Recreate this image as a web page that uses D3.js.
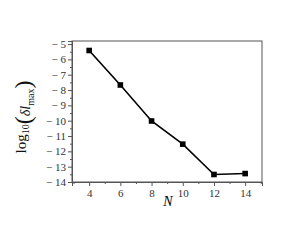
<!DOCTYPE html>
<html lang="en">
<head>
<meta charset="utf-8">
<script src="https://cdn.jsdelivr.net/npm/d3@7"></script>
<style>
  body { margin: 0; background: #fff; }
  svg { display: block; }
  text { font-family: "Liberation Serif", "DejaVu Serif", serif; }
</style>
</head>
<body>
<svg id="chart" width="284" height="245"></svg>
<script>
var nValues = [4, 6, 8, 10, 12, 14];
var logErr = [-5.42, -7.67, -10.02, -11.53, -13.51, -13.45];
var xTicks = [4, 6, 8, 10, 12, 14];
var yTicks = [-5, -6, -7, -8, -9, -10, -11, -12, -13, -14];

var svg = d3.select("#chart");
var plotL = 72, plotR = 262, plotT = 41, plotB = 182;

var x = d3.scaleLinear().domain([2.9, 15.08]).range([plotL, plotR]);
var y = d3.scaleLinear().domain([-4.8, -14]).range([plotT, plotB]);

// frame
svg.append("rect")
  .attr("x", plotL).attr("y", plotT)
  .attr("width", plotR - plotL).attr("height", plotB - plotT)
  .attr("fill", "none").attr("stroke", "#555").attr("stroke-width", 1);

var fmt = d => String(d).replace("-", "\u2212 ");

var axes = svg.append("g");
axes.append("g").attr("transform", "translate(0," + plotB + ")")
  .call(d3.axisBottom(x).tickValues(xTicks).tickSize(4).tickPadding(3).tickFormat(fmt));
axes.append("g").attr("transform", "translate(0," + plotB + ")")
  .call(d3.axisBottom(x).tickValues([3, 5, 7, 9, 11, 13, 15]).tickSize(2).tickFormat(""));

axes.append("g").attr("transform", "translate(" + plotL + ",0)")
  .call(d3.axisLeft(y).tickValues(yTicks).tickSize(4).tickPadding(2).tickFormat(fmt));
axes.append("g").attr("transform", "translate(" + plotL + ",0)")
  .call(d3.axisLeft(y).tickValues(d3.range(-5.5, -14, -1)).tickSize(2).tickFormat(""));

axes.selectAll("g").attr("font-family", "Liberation Serif, serif").attr("font-size", 11);
axes.selectAll(".domain").attr("stroke", "#555");
axes.selectAll(".tick line").attr("stroke", "#555");
axes.selectAll(".tick text").attr("fill", "#333");

// line + markers
var line = d3.line().x((d, i) => x(nValues[i])).y(d => y(d));
svg.append("path").datum(logErr)
  .attr("d", line).attr("fill", "none").attr("stroke", "#000").attr("stroke-width", 1.6);

svg.selectAll(".pt").data(logErr).enter().append("rect")
  .attr("class", "pt")
  .attr("x", (d, i) => x(nValues[i]) - 2.8)
  .attr("y", d => y(d) - 2.8)
  .attr("width", 5.6).attr("height", 5.6)
  .attr("fill", "#000");

// x label
svg.append("text").attr("x", (plotL + plotR) / 2 + 1).attr("y", 206)
  .attr("text-anchor", "middle").attr("font-size", 14).attr("font-style", "italic")
  .text("N");

// y label
var yl = svg.append("text")
  .attr("transform", "translate(26,117) rotate(-90)")
  .attr("text-anchor", "middle").attr("font-size", 15).attr("fill", "#111");
yl.append("tspan").text("log");
yl.append("tspan").attr("font-size", 10).attr("dy", 3).text("10");
yl.append("tspan").attr("font-size", 24).attr("dy", 2).text("(");
yl.append("tspan").attr("font-size", 14).attr("dy", -1).attr("font-style", "italic").text("\u03b4l");
yl.append("tspan").attr("font-size", 10).attr("dy", 4).text("max");
yl.append("tspan").attr("font-size", 24).attr("dy", -3).text(")");
</script>
</body>
</html>
